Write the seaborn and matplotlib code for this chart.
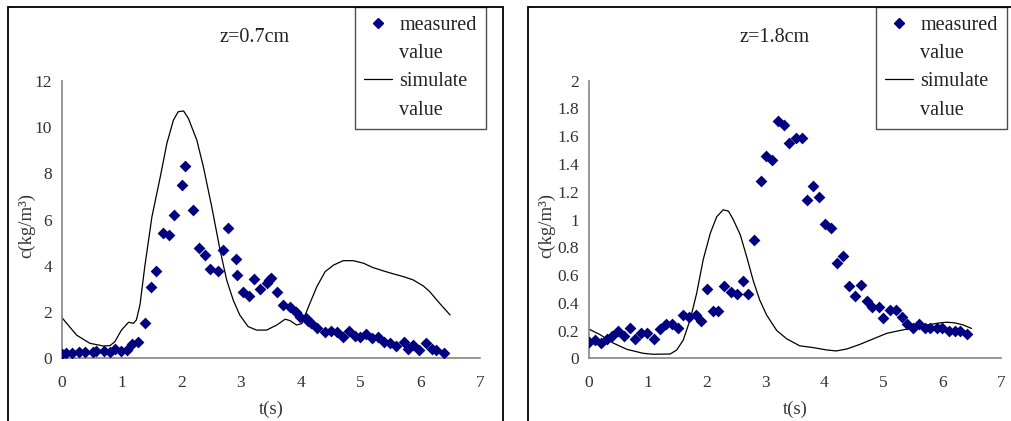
import numpy as np
import pandas as pd
import matplotlib
matplotlib.use("Agg")
import matplotlib.pyplot as plt
import seaborn as sns
from matplotlib.lines import Line2D
from matplotlib.patches import Rectangle

# z = 0.7 cm, measured
meas_t_07 = [0.0, 0.07, 0.18, 0.29, 0.39, 0.52, 0.57, 0.70, 0.80, 0.89, 1.00, 1.09, 1.18, 1.28,
             1.39, 1.49, 1.58, 1.70, 1.80, 1.88, 2.01, 2.06, 2.20, 2.30, 2.40, 2.49, 2.62, 2.70,
             2.78, 2.92, 2.93, 3.03, 3.13, 3.21, 3.32, 3.43, 3.47, 3.51, 3.60, 3.71, 3.82, 3.92,
             3.99, 4.08, 4.13, 4.18, 4.28, 4.41, 4.51, 4.61, 4.71, 4.81, 4.91, 5.00, 5.10, 5.20,
             5.30, 5.39, 5.49, 5.59, 5.73, 5.79, 5.88, 5.98, 6.10, 6.20, 6.27, 6.40]
meas_c_07 = [0.17, 0.22, 0.22, 0.27, 0.27, 0.29, 0.33, 0.33, 0.29, 0.39, 0.33, 0.36, 0.63, 0.72,
             1.54, 3.07, 3.79, 5.40, 5.33, 6.20, 7.49, 8.31, 6.41, 4.76, 4.45, 3.85, 3.79, 4.68,
             5.63, 4.31, 3.59, 2.88, 2.71, 3.44, 3.01, 3.27, 3.39, 3.46, 2.87, 2.31, 2.23, 1.99,
             1.80, 1.73, 1.61, 1.51, 1.30, 1.12, 1.18, 1.12, 0.91, 1.18, 0.98, 0.91, 1.04, 0.86,
             0.91, 0.72, 0.68, 0.55, 0.72, 0.40, 0.58, 0.36, 0.65, 0.40, 0.36, 0.24]

# z = 0.7 cm, simulated
sim_t_07 = [0.0, 0.25, 0.47, 0.70, 0.81, 0.89, 1.00, 1.12, 1.20, 1.25, 1.31, 1.39, 1.51, 1.65,
            1.76, 1.87, 1.95, 2.04, 2.12, 2.26, 2.37, 2.51, 2.65, 2.76, 2.87, 2.98, 3.12, 3.26,
            3.43, 3.60, 3.74, 3.82, 3.93, 4.02, 4.13, 4.27, 4.41, 4.55, 4.71, 4.88, 5.05, 5.21,
            5.38, 5.55, 5.72, 5.88, 6.05, 6.16, 6.30, 6.50]
sim_c_07 = [1.77, 1.00, 0.65, 0.53, 0.55, 0.72, 1.22, 1.56, 1.51, 1.66, 2.31, 3.96, 6.12, 7.85,
            9.29, 10.30, 10.66, 10.69, 10.37, 9.44, 8.29, 6.56, 4.68, 3.39, 2.52, 1.87, 1.37, 1.22,
            1.22, 1.44, 1.69, 1.63, 1.44, 1.50, 2.23, 3.10, 3.75, 4.03, 4.22, 4.22, 4.11, 3.92,
            3.78, 3.65, 3.53, 3.39, 3.13, 2.88, 2.45, 1.87]

# z = 1.8 cm, measured
meas_t_18 = [0.00, 0.10, 0.20, 0.30, 0.39, 0.49, 0.60, 0.69, 0.79, 0.89, 0.99, 1.10, 1.21, 1.30,
             1.41, 1.52, 1.60, 1.70, 1.81, 1.91, 2.00, 2.11, 2.20, 2.30, 2.41, 2.51, 2.61, 2.70,
             2.81, 2.92, 3.01, 3.11, 3.21, 3.31, 3.40, 3.51, 3.62, 3.71, 3.81, 3.91, 4.01, 4.11,
             4.21, 4.31, 4.41, 4.52, 4.62, 4.72, 4.81, 4.92, 5.00, 5.11, 5.22, 5.31, 5.40, 5.51,
             5.61, 5.71, 5.80, 5.91, 6.00, 6.12, 6.21, 6.30, 6.42]
meas_c_18 = [0.115, 0.13, 0.11, 0.14, 0.16, 0.20, 0.16, 0.22, 0.14, 0.18, 0.18, 0.14, 0.21, 0.245,
             0.25, 0.22, 0.31, 0.295, 0.31, 0.27, 0.50, 0.34, 0.34, 0.52, 0.48, 0.46, 0.56, 0.46,
             0.85, 1.28, 1.46, 1.43, 1.71, 1.68, 1.55, 1.59, 1.59, 1.14, 1.24, 1.16, 0.965, 0.94,
             0.69, 0.735, 0.52, 0.45, 0.53, 0.41, 0.37, 0.37, 0.29, 0.35, 0.35, 0.295, 0.25, 0.22,
             0.25, 0.22, 0.22, 0.22, 0.22, 0.20, 0.20, 0.20, 0.175]

# z = 1.8 cm, simulated
sim_t_18 = [0.00, 0.19, 0.41, 0.64, 0.92, 1.09, 1.38, 1.49, 1.60, 1.72, 1.83, 1.94, 2.06, 2.17,
            2.28, 2.37, 2.45, 2.57, 2.68, 2.79, 2.90, 3.02, 3.19, 3.36, 3.58, 3.81, 4.04, 4.20,
            4.38, 4.60, 4.83, 5.06, 5.28, 5.51, 5.74, 5.96, 6.08, 6.22, 6.36, 6.50]
sim_c_18 = [0.21, 0.17, 0.11, 0.065, 0.036, 0.029, 0.031, 0.06, 0.13, 0.28, 0.47, 0.71, 0.90, 1.02,
            1.07, 1.06, 1.00, 0.89, 0.73, 0.56, 0.42, 0.31, 0.20, 0.14, 0.09, 0.077, 0.06, 0.053,
            0.067, 0.10, 0.14, 0.18, 0.20, 0.22, 0.24, 0.255, 0.26, 0.255, 0.24, 0.215]

yticks_07 = [0, 2, 4, 6, 8, 10, 12]
yticks_18 = [0, 0.2, 0.4, 0.6, 0.8, 1.0, 1.2, 1.4, 1.6, 1.8, 2.0]
ytick_labels_18 = ["0", "0.2", "0.4", "0.6", "0.8", "1", "1.2", "1.4", "1.6", "1.8", "2"]
titles = ["z=0.7cm", "z=1.8cm"]

sns.set_style("white")
plt.rcParams["font.family"] = ["Liberation Serif", "DejaVu Serif"]

W, H = 1011, 421
fig = plt.figure(figsize=(W / 100, H / 100), dpi=100)

NAVY = "#000080"
AXGRAY = "#858585"
TXT = "#333333"


def px_axes(x0, x1, y0, y1):
    # pixel box -> figure fraction
    return fig.add_axes([x0 / W, 1 - y1 / H, (x1 - x0) / W, (y1 - y0) / H])


panels = [
    dict(box=(61.7, 480, 80.7, 358.3), ylim=12, yticks=yticks_07, ylabels=[str(v) for v in yticks_07],
         mt=meas_t_07, mc=meas_c_07, st=sim_t_07, sc=sim_c_07, frame=(7.5, 502.7),
         legend_x=355, title_x=255, ylab_x=35),
    dict(box=(589, 1001, 80.7, 358.3), ylim=2, yticks=yticks_18, ylabels=ytick_labels_18,
         mt=meas_t_18, mc=meas_c_18, st=sim_t_18, sc=sim_c_18, frame=(527.7, 1030),
         legend_x=876, title_x=775, ylab_x=555),
]

for i, p in enumerate(panels):
    x0, x1, y0, y1 = p["box"]
    ax = px_axes(x0, x1, y0, y1)
    meas = pd.DataFrame({"t": p["mt"], "c": p["mc"]})
    sim = pd.DataFrame({"t": p["st"], "c": p["sc"]})
    sns.lineplot(data=sim, x="t", y="c", ax=ax, color="black", linewidth=0.9, sort=False)
    sns.scatterplot(data=meas, x="t", y="c", ax=ax, marker="D", color=NAVY, s=36,
                    edgecolor=NAVY, linewidth=0, zorder=3)
    ax.set_xlim(0, 7)
    ax.set_ylim(0, p["ylim"])
    ax.set_xticks(range(8))
    ax.set_yticks(p["yticks"])
    ax.set_yticklabels(p["ylabels"])
    for s in ["top", "right"]:
        ax.spines[s].set_visible(False)
    for s in ["left", "bottom"]:
        ax.spines[s].set_color(AXGRAY)
        ax.spines[s].set_linewidth(1.2)
    ax.tick_params(direction="in", length=3.5, width=1.0, color=AXGRAY,
                   labelsize=12.5, labelcolor=TXT, pad=7)
    ax.tick_params(axis="x", pad=12)
    ax.set_xlabel("t(s)", fontsize=13.5, color=TXT, labelpad=7)
    ax.set_ylabel("c(kg/m³)", fontsize=13.5, color=TXT)
    ax.yaxis.set_label_coords((p["ylab_x"] - x0) / (x1 - x0), 0.48)
    ax.patch.set_alpha(0)

    fig.text(p["title_x"] / W, 1 - 38 / H, titles[i], fontsize=14.5, ha="center", va="center",
             color="#222222")

    # outer chart frame
    fx0, fx1 = p["frame"]
    fig.add_artist(Rectangle((fx0 / W, -0.1), (fx1 - fx0) / W, 1.1 - 7 / H,
                             transform=fig.transFigure, fill=False, edgecolor="black",
                             linewidth=1.3, clip_on=False))

    handles = [Line2D([], [], marker="D", color=NAVY, linestyle="none", markersize=5.5),
               Line2D([], [], linestyle="none"),
               Line2D([], [], color="black", linewidth=0.9),
               Line2D([], [], linestyle="none")]
    labels = ["measured", "value", "simulate", "value"]
    leg = ax.legend(handles, labels, loc="upper left",
                    bbox_to_anchor=(p["legend_x"] / W, 1 - 7 / H), bbox_transform=fig.transFigure,
                    frameon=True, fancybox=False, shadow=False, fontsize=14.5,
                    handlelength=1.4, handletextpad=0.35, borderpad=0.45, labelspacing=0.45,
                    borderaxespad=0)
    leg.get_frame().set_edgecolor("#222222")
    leg.get_frame().set_linewidth(1.0)
    for t in leg.get_texts():
        t.set_color("#222222")

fig.savefig("out.png", dpi=100)
